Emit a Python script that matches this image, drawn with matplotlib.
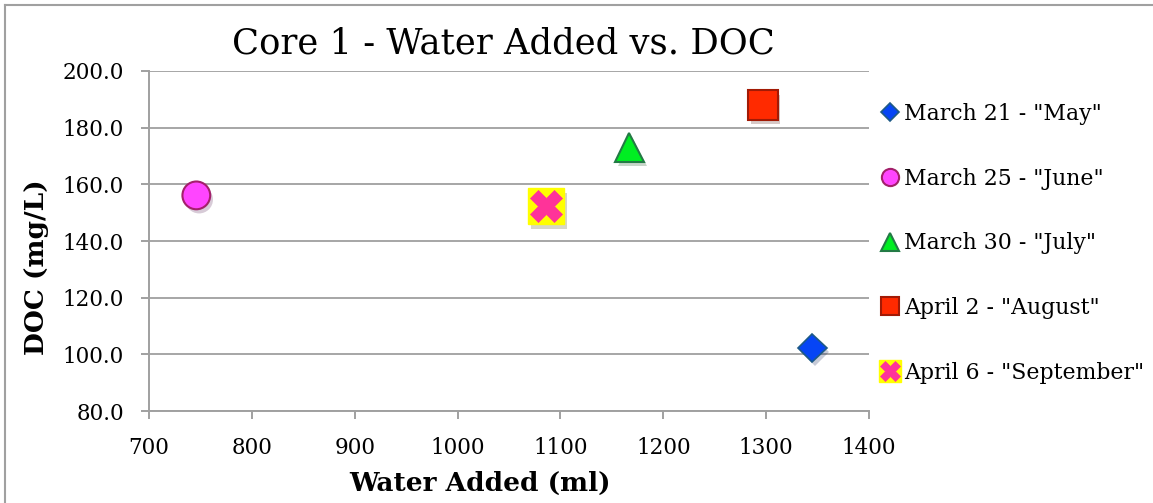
import matplotlib.pyplot as plt
import matplotlib.patheffects as pe
from matplotlib.lines import Line2D

# data
labels = ['March 21 - "May"', 'March 25 - "June"', 'March 30 - "July"',
          'April 2 - "August"', 'April 6 - "September"']
water_added = [1345, 746, 1167, 1297, 1086]
doc = [102.3, 156.1, 173.0, 188.0, 152.2]

x_ticks = [700, 800, 900, 1000, 1100, 1200, 1300, 1400]
y_ticks = [80, 100, 120, 140, 160, 180, 200]

plt.rcParams['font.family'] = ['DejaVu Serif']

fig = plt.figure(figsize=(11.53, 5.03), dpi=100)
ax = fig.add_axes([149 / 1153, 1 - 411 / 503, 720 / 1153, 340 / 503])

shadow = [pe.SimplePatchShadow(offset=(2, -3), alpha=0.22), pe.Normal()]

## marker styles per series
styles = [
    dict(marker='D', ms=14.5, mfc='#0645f5', mec='#1d5a86', mew=1.2),
    dict(marker='o', ms=20, mfc='#ff45ff', mec='#a3206b', mew=1.5),
    dict(marker='^', ms=21, mfc='#00ee22', mec='#237a45', mew=1.5),
    dict(marker='s', ms=21, mfc='#ff2a00', mec='#a21a05', mew=1.5),
]
box_style = dict(marker='s', ms=26, mfc='#ffff00', mec='#ffff00', mew=1)
cross_style = dict(marker='X', ms=23, mfc='#ff3399', mec='#ff3399', mew=0.5)

for i in range(4):
    ax.plot(water_added[i], doc[i], ls='none', path_effects=shadow, zorder=3, **styles[i])

# september: yellow box with pink x
ax.plot(water_added[4], doc[4], ls='none', path_effects=shadow, zorder=3, **box_style)
ax.plot(water_added[4], doc[4], ls='none', zorder=4, **cross_style)

# legend proxies (no shadow)
handles = [Line2D([], [], ls='none', **st) for st in styles]
handles.append((Line2D([], [], ls='none', **box_style), Line2D([], [], ls='none', **cross_style)))

ax.set_xlim(700, 1400)
ax.set_ylim(80, 200)
ax.set_xticks(x_ticks)
ax.set_yticks(y_ticks)
ax.set_yticklabels(['{:.1f}'.format(v) for v in y_ticks])

ax.grid(axis='y', color='#a6a6a6', lw=1.4)
ax.set_axisbelow(True)
for s in ['top', 'right']:
    ax.spines[s].set_visible(False)
for s in ['left', 'bottom']:
    ax.spines[s].set_color('#a0a0a0')
    ax.spines[s].set_linewidth(1.4)
ax.tick_params(axis='both', direction='out', length=6, width=1.4, color='#a0a0a0',
               labelsize=15.5)
ax.tick_params(axis='y', pad=12)
ax.tick_params(axis='x', pad=13)

ax.set_xlabel('Water Added (ml)', fontsize=19, weight='bold')
ax.xaxis.set_label_coords((480 - 149) / 720, -(483 - 411) / 340, transform=ax.transAxes)
ax.xaxis.label.set_va('center')
ax.set_ylabel('DOC (mg/L)', fontsize=19, weight='bold')
ax.yaxis.set_label_coords(-(149 - 37) / 720, (411 - 267) / 340, transform=ax.transAxes)
ax.yaxis.label.set_va('center')
fig.text(503 / 1153, 1 - 43 / 503, 'Core 1 - Water Added vs. DOC', fontsize=25.5,
         ha='center', va='center')

leg = fig.legend(handles, labels, loc='upper left', bbox_to_anchor=(871 / 1153, 1 - 94 / 503),
                 frameon=False, fontsize=15.8, markerscale=0.62, handlelength=0.9,
                 handletextpad=0.2, labelspacing=1.95, borderaxespad=0)

# chart border (left and top only)
fig.add_artist(Line2D([5 / 1153, 5 / 1153], [0, 1 - 5 / 503], color='#a0a0a0', lw=1.5))
fig.add_artist(Line2D([5 / 1153, 1], [1 - 5 / 503, 1 - 5 / 503], color='#a0a0a0', lw=1.5))

fig.savefig('out.png', dpi=100)
